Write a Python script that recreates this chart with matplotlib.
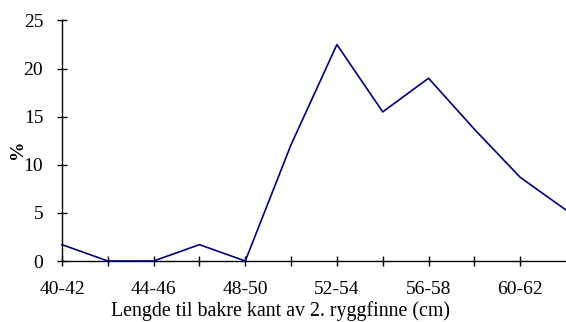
import matplotlib
matplotlib.use('Agg')
import matplotlib.pyplot as plt

categories = ['40-42', '42-44', '44-46', '46-48', '48-50', '50-52',
              '52-54', '54-56', '56-58', '58-60', '60-62', '62-64']
percent = [1.7, 0, 0, 1.7, 0, 12.1, 22.5, 15.5, 19.0, 13.7, 8.7, 5.3]

plt.rcParams['font.family'] = ['Liberation Serif', 'DejaVu Serif']

fig = plt.figure(figsize=(5.66, 3.22), dpi=100)
ax = fig.add_axes([62 / 566, 61 / 322, 504 / 566, 240.5 / 322])

x = list(range(len(categories)))
ax.plot(x, percent, color='#000080', lw=1.2, clip_on=False, zorder=3)

ax.set_xlim(0, len(categories) - 1)
ax.set_ylim(0, 25)
ax.set_yticks([0, 5, 10, 15, 20, 25])
ax.set_xticks(x[:-1])
ax.set_xticklabels([c if i % 2 == 0 else '' for i, c in enumerate(categories[:-1])])

ax.axhline(25, color='#808080', lw=1.2, zorder=1)

for s in ['top', 'right']:
    ax.spines[s].set_visible(False)
for s in ['left', 'bottom']:
    ax.spines[s].set_linewidth(1.0)

ax.tick_params(direction='inout', length=7, width=1.0, labelsize=14)
ax.tick_params(axis='y', pad=10)
ax.tick_params(axis='x', pad=11)

ax.set_xlabel('Lengde til bakre kant av 2. ryggfinne (cm)', fontsize=14.3, va='center')
ax.xaxis.set_label_coords(0.433, -0.21)
ax.set_ylabel('%', fontsize=14, fontweight='bold')
ax.yaxis.set_label_coords(-0.072, 0.466)

fig.savefig('out.png', dpi=100)
